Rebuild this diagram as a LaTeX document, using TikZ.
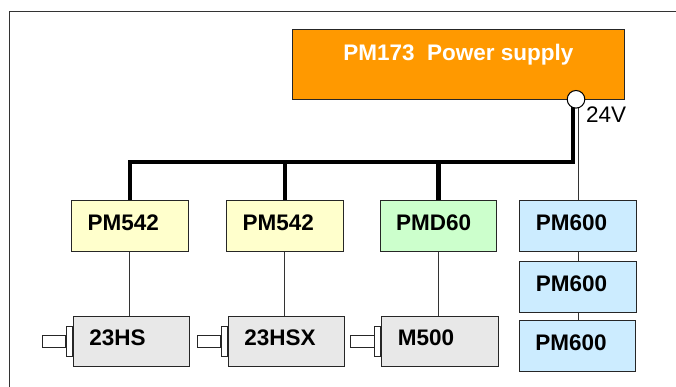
\documentclass[tikz,border=0pt]{standalone}
\usepackage{fontspec}
\setmainfont{Liberation Sans}
\usetikzlibrary{positioning}
\definecolor{psuorange}{HTML}{FF9900}
\definecolor{drvyellow}{HTML}{FFFFCC}
\definecolor{drvgreen}{HTML}{CCFFCC}
\definecolor{drvblue}{HTML}{CCECFF}
\definecolor{motorgray}{HTML}{E8E8E8}
\begin{document}
\begin{tikzpicture}[x=1pt, y=-1pt,
    box/.style={draw=black!85, line width=1pt, minimum width=116.5pt, minimum height=50.6pt,
      text width=84.5pt, inner xsep=16pt, align=left, text depth=7pt,
      font=\fontsize{22.5}{27}\selectfont\bfseries},
    psu/.style={draw=black!85, line width=1pt, fill=psuorange, minimum width=331.3pt,
      minimum height=70pt, text=white, text depth=24.6pt, font=\fontsize{22.5}{27}\selectfont\bfseries},
    flange/.style={draw=black!85, line width=.8pt, fill=white, minimum width=6pt, minimum height=30.7pt, inner sep=0pt},
    shaft/.style={draw=black!85, line width=.8pt, fill=white, minimum width=23.3pt, minimum height=11.7pt, inner sep=0pt},
    wire/.style={draw=black!80, line width=1pt},
    bus/.style={draw=black, line width=4.5pt},
    terminal/.style={circle, draw=black, line width=1pt, fill=white, minimum size=17.6pt, inner sep=0pt},
    volt/.style={inner sep=0pt, font=\fontsize{22.5}{27}\selectfont}]
\useasboundingbox (0,0) rectangle (676,387);
\draw[black!80, line width=1.5pt] (9.5,387) |- (676,11.7);
\node[psu] (psu) at (458.4,64.3) {PM173\ \ Power supply};
\node[box, fill=drvyellow] (pmA) at (129.9,226) {PM542};
\node[box, fill=drvyellow] (pmB) at (284.9,226) {PM542};
\node[box, fill=drvgreen] (pmd) at (438.4,226) {PMD60};
\node[box, fill=drvblue] (pmC) at (578,226) {PM600};
\node[box, fill=drvblue] (pmD) at (578,286.7) {PM600};
\node[box, fill=drvblue] (pmE) at (577.5,346.2) {PM600};
\node[box, fill=motorgray] (mA) at (131.7,341.4) {23HS};
\node[box, fill=motorgray] (mB) at (286.6,341.4) {23HSX};
\node[box, fill=motorgray] (mC) at (440,341.4) {M500};
\foreach \m in {mA,mB,mC}{
  \node[flange, anchor=east] (f\m) at (\m.west) {};
  \node[shaft, anchor=east] (s\m) at (f\m.west) {};
}
\coordinate (tap) at (576,99.3);
\coordinate (busend) at (573,162);
\draw[wire] (pmA.south) -- (pmA.south |- mA.north);
\draw[wire] (pmB.south) -- (pmB.south |- mB.north);
\draw[wire] (pmd.south) -- (pmd.south |- mC.north);
\draw[wire] (pmC.south) -- (pmC.south |- pmD.north);
\draw[wire] (pmD.south) -- (pmD.south |- pmE.north);
\draw[wire] (pmC.north) -- (pmC.north |- tap);
\draw[bus] (pmA.north) |- (busend) -- (busend |- tap);
\draw[bus] (pmB.north) -- (pmB.north |- busend);
\draw[bus] (pmd.north) -- (pmd.north |- busend);
\node[terminal] (term) at (tap) {};
\node[volt, anchor=west] (volt) at (586,115) {24V};
\end{tikzpicture}
\end{document}
